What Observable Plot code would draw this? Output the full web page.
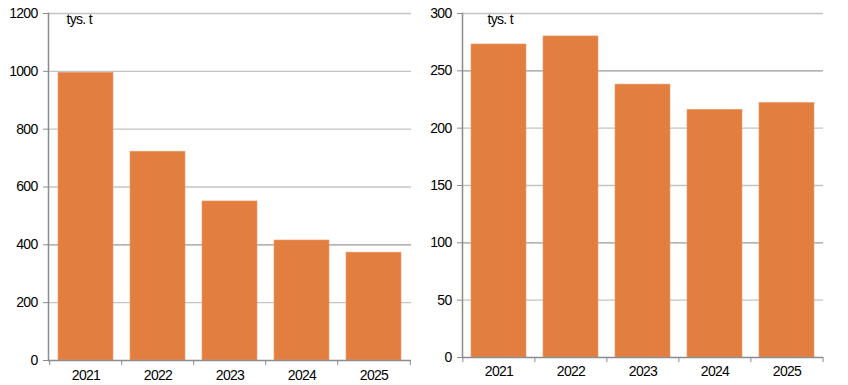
<!DOCTYPE html>
<html>
<head>
<meta charset="utf-8">
<script src="https://cdn.jsdelivr.net/npm/d3@7"></script>
<script src="https://cdn.jsdelivr.net/npm/@observablehq/plot@0.6"></script>
<style>
  html, body { margin: 0; padding: 0; background: #fff; }
  #wrap { display: flex; width: 848px; height: 385px; }
  svg { font-family: "Liberation Sans Narrow", "Arial Narrow", "Liberation Sans", sans-serif; letter-spacing: -0.7px; }
</style>
</head>
<body>
<div id="wrap"></div>
<script>
const years = ["2021", "2022", "2023", "2024", "2025"];
const leftValues = [995, 722, 550, 415, 373];
const rightValues = [273, 280, 238, 216, 222];
const leftTicks = [0, 200, 400, 600, 800, 1000, 1200];
const rightTicks = [0, 50, 100, 150, 200, 250, 300];
const unitLabel = "tys. t";

const barColor = "#e37e41";
const gridColor = "#c4c4c4";
const axisColor = "#8c8c8c";

function panel(values, ticks, opts) {
  const data = years.map((y, i) => ({year: y, value: values[i]}));
  const innerW = opts.width - opts.marginLeft - opts.marginRight;
  const step = innerW / years.length;
  return Plot.plot({
    width: opts.width,
    height: 385,
    marginLeft: opts.marginLeft,
    marginRight: opts.marginRight,
    marginTop: 13,
    marginBottom: opts.marginBottom,
    style: {fontSize: "14px", color: "#000", background: "#fff"},
    x: {domain: years, paddingInner: 0.23, paddingOuter: 0.115, axis: null, label: null},
    y: {domain: [ticks[0], ticks[ticks.length - 1]], axis: null, label: null},
    marks: [
      Plot.ruleY(ticks.slice(1), {stroke: d => opts.darkGrid.includes(d) ? "#9a9a9a" : gridColor, strokeWidth: 1.3}),
      Plot.barY(data, {x: "year", y: "value", fill: barColor, stroke: "#ee9a66", strokeWidth: 0.6}),
      Plot.axisY(ticks, {tickSize: 5, tickPadding: 6, stroke: axisColor, fontSize: 14, label: null, tickFormat: d => String(d)}),
      Plot.frame({anchor: "left", stroke: axisColor, strokeWidth: 1.5}),
      Plot.ruleY([0], {stroke: axisColor, strokeWidth: 1.5}),
      Plot.ruleX(years, {x: d => d, dx: -step / 2, y1: 0, y2: 0, insetBottom: -5, stroke: axisColor}),
      Plot.ruleX(years.slice(-1), {x: d => d, dx: step / 2, y1: 0, y2: 0, insetBottom: -5, stroke: axisColor}),
      Plot.axisX({tickSize: 0, tickPadding: opts.xPad, fontSize: 14, label: null}),
      Plot.text([unitLabel], {frameAnchor: "top-left", dx: opts.labelDx, dy: 1, fontSize: 14, text: d => d})
    ]
  });
}

const wrap = document.getElementById("wrap");
wrap.append(panel(leftValues, leftTicks, {width: 424, marginLeft: 48, marginRight: 13, marginBottom: 25, xPad: 10, labelDx: 18, darkGrid: [400]}));
wrap.append(panel(rightValues, rightTicks, {width: 424, marginLeft: 38, marginRight: 25, marginBottom: 28, xPad: 9, labelDx: 25, darkGrid: [250, 100]}));
</script>
</body>
</html>
